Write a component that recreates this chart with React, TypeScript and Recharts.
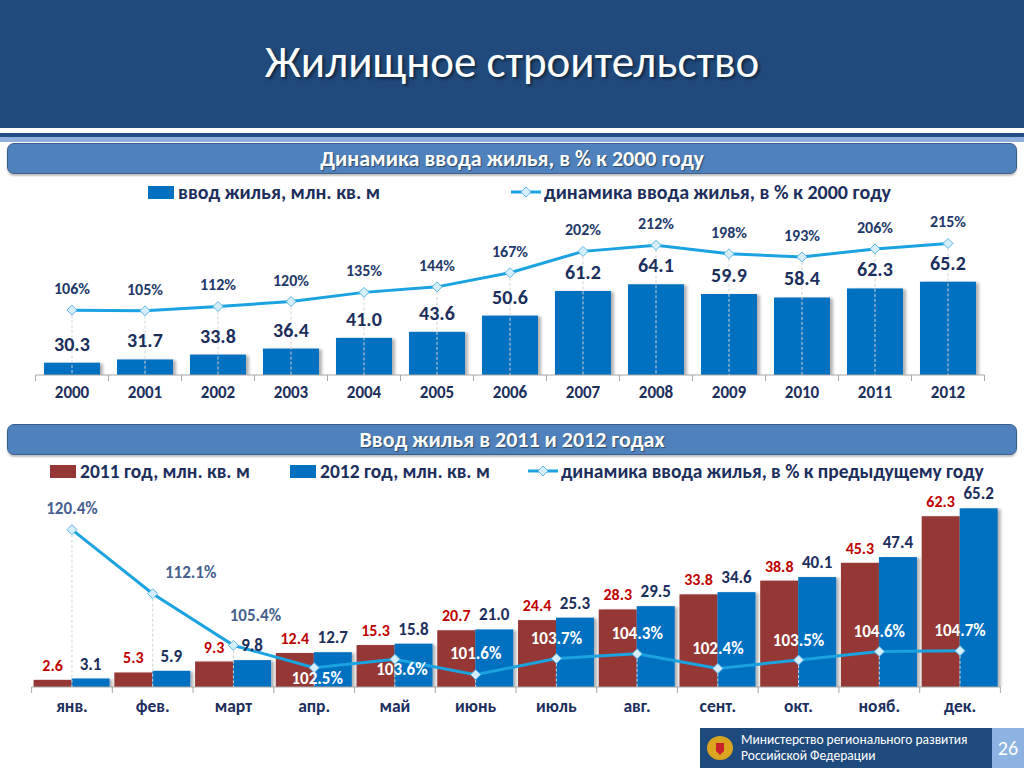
import React from "react";
import { ComposedChart, Bar, Line, XAxis, YAxis, LabelList } from "recharts";

// Динамика ввода жилья 2000-2012
const years = ["2000", "2001", "2002", "2003", "2004", "2005", "2006", "2007", "2008", "2009", "2010", "2011", "2012"];
const housingVolume = [30.3, 31.7, 33.8, 36.4, 41.0, 43.6, 50.6, 61.2, 64.1, 59.9, 58.4, 62.3, 65.2];
const growthVs2000 = [106, 105, 112, 120, 135, 144, 167, 202, 212, 198, 193, 206, 215];

// Ввод жилья по месяцам, 2011 и 2012
const months = ["янв.", "фев.", "март", "апр.", "май", "июнь", "июль", "авг.", "сент.", "окт.", "нояб.", "дек."];
const volume2011 = [2.6, 5.3, 9.3, 12.4, 15.3, 20.7, 24.4, 28.3, 33.8, 38.8, 45.3, 62.3];
const volume2012 = [3.1, 5.9, 9.8, 12.7, 15.8, 21.0, 25.3, 29.5, 34.6, 40.1, 47.4, 65.2];
const growthVsPrevYear = [120.4, 112.1, 105.4, 102.5, 103.6, 101.6, 103.7, 104.3, 102.4, 103.5, 104.6, 104.7];

const yearlyData = years.map((year, i) => ({
  year,
  volume: housingVolume[i],
  growth: growthVs2000[i],
}));

const monthlyData = months.map((month, i) => ({
  month,
  v2011: volume2011[i],
  v2012: volume2012[i],
  growth: growthVsPrevYear[i],
}));

const FONT = "Carlito, 'Open Sans', sans-serif";
const NAVY = "#1C2E5C";
const BAR_BLUE = "#0070C0";
const BAR_RED = "#953735";
const LINE_BLUE = "#1AA3E0";

// label shifts for the monthly % labels (dx, dy from the point)
const pctLabelShift = [
  [0, -21], [38, -21], [22, -30], [3, 11], [7, 10], [0, -21],
  [0, -20], [0, -20], [0, -20], [0, -20], [0, -20], [0, -20],
];

const makeDot = (bottom: number) => (props: any) => {
  const { cx, cy, index } = props;
  if (cx == null || cy == null) return <g key={`d-${index}`} />;
  return (
    <g key={`d-${index}`}>
      <line x1={cx} y1={cy + 5} x2={cx} y2={bottom} stroke="#D4D4D4" strokeDasharray="3 2" strokeWidth={1} />
      <path
        d={`M${cx},${cy - 5} L${cx + 5},${cy} L${cx},${cy + 5} L${cx - 5},${cy} Z`}
        fill="#D6EDFA"
        stroke="#5DB8E8"
        strokeWidth={1}
      />
    </g>
  );
};

const CategoryTick = (props: any) => {
  const { x, y, payload, index, band, count, fontSize, textDy } = props;
  return (
    <g>
      <line x1={x - band / 2} y1={y} x2={x - band / 2} y2={y + 6} stroke="#A6A6A6" />
      {index === count - 1 && <line x1={x + band / 2} y1={y} x2={x + band / 2} y2={y + 6} stroke="#A6A6A6" />}
      <text x={x} y={y + textDy} textAnchor="middle" fill={NAVY} fontSize={fontSize} fontWeight={700} fontFamily={FONT}>
        {payload.value}
      </text>
    </g>
  );
};

const ShadowBar = (props: any) => {
  const { x, y, width, height, fill } = props;
  if (!height || height <= 0) return <g />;
  return <rect x={x} y={y} width={width} height={height} fill={fill} filter="url(#barShadow)" />;
};

const renderMonthPct = (props: any) => {
  const { x, y, value, index } = props;
  const [dx, dy] = pctLabelShift[index] || [0, -20];
  return (
    <text
      key={`p-${index}`}
      x={x + dx}
      y={y + dy + 5.5}
      textAnchor="middle"
      fill={index < 3 ? "#475F8E" : "#FFFFFF"}
      fontSize={17}
      fontWeight={700}
      fontFamily={FONT}
    >
      {`${Number(value).toFixed(1)}%`}
    </text>
  );
};

const SectionBar = ({ top, text }: { top: number; text: string }) => (
  <div
    style={{
      position: "absolute",
      left: 7,
      top,
      width: 1008,
      height: 29,
      background: "#4F81BD",
      border: "1px solid #3A5F8F",
      borderRadius: 7,
      boxShadow: "0 2px 2px rgba(0,0,0,0.25)",
      color: "#fff",
      fontFamily: FONT,
      fontWeight: 700,
      fontSize: 22,
      lineHeight: "29px",
      textAlign: "center",
      textShadow: "1px 1px 1px rgba(0,0,0,0.45)",
    }}
  >
    {text}
  </div>
);

const SquareKey = ({ left, top, color, text, size }: any) => (
  <div style={{ position: "absolute", left, top, height: 18, display: "flex", alignItems: "center", whiteSpace: "nowrap" }}>
    <div style={{ width: 26, height: 13, background: color, marginRight: 4 }} />
    <span style={{ fontFamily: FONT, fontWeight: 700, fontSize: size, lineHeight: "18px", color: NAVY }}>{text}</span>
  </div>
);

const LineKey = ({ left, top, text, size }: any) => (
  <div style={{ position: "absolute", left, top, height: 18, display: "flex", alignItems: "center", whiteSpace: "nowrap" }}>
    <svg width={30} height={12} style={{ marginRight: 3 }}>
      <line x1={0} y1={6} x2={30} y2={6} stroke={LINE_BLUE} strokeWidth={3} />
      <path d="M15,1 L20,6 L15,11 L10,6 Z" fill="#D6EDFA" stroke="#5DB8E8" />
    </svg>
    <span style={{ fontFamily: FONT, fontWeight: 700, fontSize: size, lineHeight: "18px", color: NAVY }}>{text}</span>
  </div>
);

const ShadowDefs = () => (
  <defs>
    <filter id="barShadow" x="-10%" y="-10%" width="130%" height="120%">
      <feDropShadow dx={3} dy={1} stdDeviation={1.5} floodColor="#000" floodOpacity={0.3} />
    </filter>
  </defs>
);

export default function App() {
  return (
    <div style={{ position: "absolute", left: 0, top: 0, width: 1024, height: 768, background: "#fff", overflow: "hidden" }}>
      {/* header */}
      <div
        style={{
          position: "absolute",
          left: 0,
          top: 0,
          width: 1024,
          height: 128,
          background: "#214A7C",
          color: "#fff",
          fontFamily: FONT,
          fontSize: 45,
          textAlign: "center",
          lineHeight: "124px",
          textShadow: "2px 2px 3px rgba(0,0,0,0.5)",
        }}
      >
        Жилищное строительство
      </div>
      <div style={{ position: "absolute", left: 0, top: 133, width: 1024, height: 4, background: "#234F86" }} />
      <div style={{ position: "absolute", left: 0, top: 137, width: 1024, height: 5, background: "#8FB0DC" }} />

      <SectionBar top={143} text="Динамика ввода жилья, в % к 2000 году" />

      <SquareKey left={148} top={183} color={BAR_BLUE} text="ввод жилья, млн. кв. м" size={20} />
      <LineKey left={511} top={183} text="динамика ввода жилья, в % к 2000 году" size={20} />

      <div style={{ position: "absolute", left: 0, top: 200 }}>
        <ComposedChart
          width={1024}
          height={220}
          data={yearlyData}
          margin={{ top: 10, right: 39.5, bottom: 0, left: 35.5 }}
          barCategoryGap="11.6%"
        >
          <ShadowDefs />
          <XAxis
            dataKey="year"
            height={45}
            interval={0}
            axisLine={{ stroke: "#A6A6A6" }}
            tickLine={false}
            tickSize={0}
            tickMargin={0}
            tick={<CategoryTick band={73} count={13} fontSize={17} textDy={22.5} />}
          />
          <YAxis yAxisId="vol" hide domain={[25, 96.1]} allowDataOverflow />
          <YAxis yAxisId="pct" hide domain={[0, 269.6]} allowDataOverflow />
          <Bar yAxisId="vol" dataKey="volume" fill={BAR_BLUE} isAnimationActive={false} shape={<ShadowBar />}>
            <LabelList
              dataKey="volume"
              position="top"
              offset={12}
              fill={NAVY}
              fontSize={20}
              fontWeight={700}
              fontFamily={FONT}
              formatter={(v: any) => Number(v).toFixed(1)}
            />
          </Bar>
          <Line
            yAxisId="pct"
            dataKey="growth"
            stroke={LINE_BLUE}
            strokeWidth={3}
            dot={makeDot(175)}
            activeDot={false}
            isAnimationActive={false}
          >
            <LabelList
              dataKey="growth"
              position="top"
              offset={16}
              fill="#23386A"
              fontSize={16}
              fontWeight={700}
              fontFamily={FONT}
              formatter={(v: any) => `${v}%`}
            />
          </Line>
        </ComposedChart>
      </div>

      <SectionBar top={424} text="Ввод жилья в 2011 и 2012 годах" />

      <SquareKey left={50} top={462} color={BAR_RED} text="2011 год, млн. кв. м" size={19.5} />
      <SquareKey left={290} top={462} color={BAR_BLUE} text="2012 год, млн. кв. м" size={19.5} />
      <LineKey left={528} top={462} text="динамика ввода жилья, в % к предыдущему году" size={19.5} />

      <div style={{ position: "absolute", left: 0, top: 480 }}>
        <ComposedChart
          width={1024}
          height={250}
          data={monthlyData}
          margin={{ top: 15, right: 23.6, bottom: 0, left: 31.6 }}
          barCategoryGap={2}
          barGap={0}
        >
          <ShadowDefs />
          <XAxis
            dataKey="month"
            height={43}
            interval={0}
            axisLine={{ stroke: "#A6A6A6" }}
            tickLine={false}
            tickSize={0}
            tickMargin={0}
            tick={<CategoryTick band={80.73} count={12} fontSize={17.5} textDy={25} />}
          />
          <YAxis yAxisId="vol" hide domain={[0, 70.05]} allowDataOverflow />
          <YAxis yAxisId="pct" hide domain={[100, 124.9]} allowDataOverflow />
          <Bar yAxisId="vol" dataKey="v2011" fill={BAR_RED} isAnimationActive={false} shape={<ShadowBar />}>
            <LabelList
              dataKey="v2011"
              position="top"
              offset={9}
              fill="#C00000"
              fontSize={16}
              fontWeight={700}
              fontFamily={FONT}
              formatter={(v: any) => Number(v).toFixed(1)}
            />
          </Bar>
          <Bar yAxisId="vol" dataKey="v2012" fill={BAR_BLUE} isAnimationActive={false} shape={<ShadowBar />}>
            <LabelList
              dataKey="v2012"
              position="top"
              offset={9}
              fill={NAVY}
              fontSize={17}
              fontWeight={700}
              fontFamily={FONT}
              formatter={(v: any) => Number(v).toFixed(1)}
            />
          </Bar>
          <Line
            yAxisId="pct"
            dataKey="growth"
            stroke={LINE_BLUE}
            strokeWidth={3}
            dot={makeDot(207)}
            activeDot={false}
            isAnimationActive={false}
          >
            <LabelList dataKey="growth" content={renderMonthPct} />
          </Line>
        </ComposedChart>
      </div>

      {/* footer */}
      <div style={{ position: "absolute", left: 700, top: 728, width: 292, height: 40, background: "#1F4A7D" }}>
        <svg width={30} height={30} style={{ position: "absolute", left: 5, top: 5 }}>
          <ellipse cx={15} cy={15} rx={13} ry={12} fill="#D9A520" />
          <path d="M11,10 L19,10 L19,18 L15,22 L11,18 Z" fill="#C8202A" />
        </svg>
        <div style={{ position: "absolute", left: 41, top: 4, fontFamily: FONT, fontSize: 13.5, lineHeight: "16px", color: "#fff", whiteSpace: "nowrap" }}>
          Министерство регионального развития
          <br />
          Российской Федерации
        </div>
      </div>
      <div
        style={{
          position: "absolute",
          left: 992,
          top: 728,
          width: 32,
          height: 40,
          background: "#8DB3E2",
          color: "#fff",
          fontFamily: FONT,
          fontSize: 20,
          lineHeight: "40px",
          textAlign: "center",
        }}
      >
        26
      </div>
    </div>
  );
}
